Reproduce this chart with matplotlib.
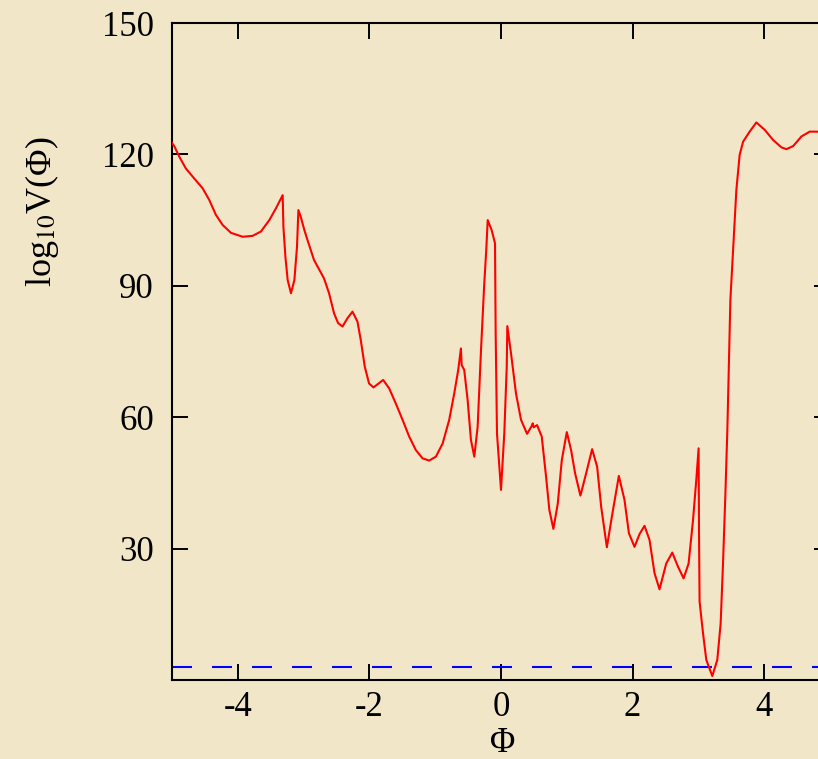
"""log10 V(Phi) potential curve with a dashed reference level."""

import matplotlib

matplotlib.use("Agg")
import matplotlib.pyplot as plt

# ----------------------------------------------------------------------
# Data
# ----------------------------------------------------------------------
PHI = [
    -5.000, -4.966, -4.890, -4.790, -4.662, -4.536, -4.434, -4.333, -4.231,
    -4.105, -3.927, -3.775, -3.648, -3.521, -3.420, -3.318, -3.307, -3.277,
    -3.242, -3.192, -3.140, -3.100, -3.079, -3.044, -2.988, -2.942, -2.842,
    -2.690, -2.613, -2.537, -2.476, -2.409, -2.333, -2.257, -2.181, -2.131,
    -2.070, -2.005, -1.938, -1.868, -1.791, -1.700, -1.598, -1.496, -1.396,
    -1.294, -1.192, -1.091, -0.989, -0.887, -0.787, -0.711, -0.650, -0.609,
    -0.598, -0.559, -0.507, -0.457, -0.406, -0.355, -0.304, -0.254, -0.224,
    -0.202, -0.142, -0.091, -0.081, -0.061, 0.000, 0.050, 0.087, 0.096,
    0.152, 0.228, 0.304, 0.396, 0.467, 0.482, 0.498, 0.548, 0.619, 0.685,
    0.735, 0.796, 0.863, 0.924, 1.000, 1.065, 1.126, 1.207, 1.294, 1.385,
    1.461, 1.522, 1.609, 1.685, 1.791, 1.877, 1.944, 2.029, 2.105, 2.181,
    2.257, 2.333, 2.409, 2.511, 2.603, 2.689, 2.775, 2.851, 2.918, 2.968,
    3.003, 3.009, 3.018, 3.070, 3.120, 3.211, 3.287, 3.338, 3.374, 3.409,
    3.440, 3.486, 3.527, 3.577, 3.627, 3.679, 3.779, 3.881, 4.008, 4.135,
    4.262, 4.338, 4.440, 4.566, 4.692, 4.820, 5.000,
]
LOG_V = [
    122.6, 121.9, 119.5, 116.8, 114.5, 112.3, 109.6, 106.2, 103.9,
    102.1, 101.2, 101.4, 102.4, 105.0, 107.7, 110.7, 103.5, 96.7,
    91.3, 88.3, 91.3, 99.0, 107.3, 105.8, 102.7, 100.5, 95.9,
    91.7, 88.3, 83.7, 81.5, 80.7, 82.6, 84.1, 81.8, 77.6,
    71.5, 67.7, 66.8, 67.6, 68.5, 66.6, 63.1, 59.4, 55.6,
    52.5, 50.6, 50.1, 51.0, 54.0, 59.4, 65.4, 70.8, 75.7,
    71.9, 70.8, 63.9, 54.8, 51.0, 57.8, 75.3, 90.6, 98.2,
    105.0, 102.7, 99.7, 79.1, 56.3, 43.4, 56.3, 71.5, 80.8,
    74.6, 65.4, 59.4, 56.2, 58.0, 58.6, 57.7, 58.2, 55.6, 46.4,
    38.8, 34.5, 40.3, 50.2, 56.6, 52.5, 47.2, 42.1, 47.2, 52.7,
    48.7, 39.6, 30.3, 37.3, 46.6, 41.1, 33.5, 30.4, 33.3, 35.2,
    32.0, 24.4, 20.7, 26.6, 29.1, 25.9, 23.2, 26.6, 36.5, 45.7,
    52.9, 34.2, 17.9, 10.7, 4.6, 0.9, 4.6, 12.9, 26.6, 41.9,
    57.1, 86.8, 98.2, 111.9, 119.9, 122.9, 125.2, 127.3, 125.6, 123.3,
    121.6, 121.2, 121.9, 124.1, 125.2, 125.2, 125.0,
]
REF_LEVEL = 3.0

X_TICKS = [-4, -2, 0, 2, 4]
Y_TICKS = [30, 60, 90, 120, 150]

BG = "#F1E7C8"

plt.rcParams.update(
    {
        "font.family": ["Liberation Serif", "DejaVu Serif"],
        "mathtext.fontset": "stix",
        "axes.unicode_minus": False,
        "font.size": 25,
    }
)

fig = plt.figure(figsize=(8.18, 7.59), dpi=100, facecolor=BG)
# right spine sits just past the image edge, as in the reference crop
ax = fig.add_axes([172 / 818, 79 / 759, 658 / 818, 657 / 759])
ax.set_facecolor(BG)

ax.plot(PHI, LOG_V, color="red", linewidth=1.5, zorder=3,
        solid_joinstyle="round")
ax.axhline(REF_LEVEL, color="blue", linewidth=1.5, dashes=(9.6, 9.6), zorder=2)

ax.set_xlim(-5, 5)
ax.set_ylim(0, 150)
ax.set_xticks(X_TICKS)
ax.set_xticklabels([str(t) for t in X_TICKS])
ax.set_yticks(Y_TICKS)
ax.set_yticklabels([str(t) for t in Y_TICKS])
ax.minorticks_off()

for sp in ax.spines.values():
    sp.set_linewidth(1.5)
ax.tick_params(direction="in", length=11.5, width=1.4, top=True, right=True)
ax.tick_params(axis="x", pad=8)
ax.tick_params(axis="y", pad=13)

fig.text(42 / 818, 1 - 212 / 759, r"log$_{10}$V(Φ)", rotation=90,
         ha="center", va="center", fontsize=26)
fig.text(503 / 818, 1 - 743 / 759, "Φ", ha="center", va="center", fontsize=25)

fig.savefig("out.png", dpi=100, facecolor=BG)
